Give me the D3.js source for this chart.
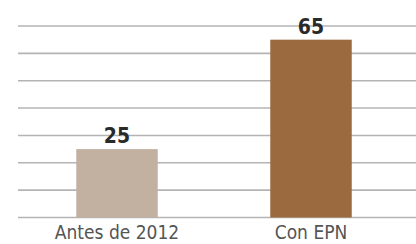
<!DOCTYPE html>
<html>
<head>
<meta charset="utf-8">
<script src="https://cdn.jsdelivr.net/npm/d3@7"></script>
<style>
  body { margin: 0; background: #fff; }
  svg { display: block; }
</style>
</head>
<body>
<svg id="chart" width="416" height="244"></svg>
<script>
const categories = ["Antes de 2012", "Con EPN"];
const values = [25, 65];
const barColors = ["#c2b1a1", "#9c6a3f"];
const gridTicks = [0, 10, 20, 30, 40, 50, 60, 70];

const svg = d3.select("#chart");
const W = 416, H = 244;
const margin = { left: 18, right: 0, top: 26, bottom: 26.5 };

const x = d3.scaleBand()
  .domain(categories)
  .range([20, 408])
  .paddingInner(0.58)
  .paddingOuter(0.29);

const y = d3.scaleLinear()
  .domain([0, 70])
  .range([H - margin.bottom, margin.top]);

const FONT = "'DejaVu Sans Condensed', 'Liberation Sans Narrow', sans-serif";

// gridlines
svg.append("g")
  .selectAll("line")
  .data(gridTicks)
  .join("line")
    .attr("x1", margin.left).attr("x2", W)
    .attr("y1", d => y(d)).attr("y2", d => y(d))
    .attr("stroke", "#b4b4b4")
    .attr("stroke-width", 1.6);

// bars
svg.append("g")
  .selectAll("rect")
  .data(values)
  .join("rect")
    .attr("x", (d, i) => x(categories[i]))
    .attr("width", x.bandwidth())
    .attr("y", d => y(d))
    .attr("height", d => y(0) - y(d))
    .attr("fill", (d, i) => barColors[i]);

// value labels
svg.append("g")
  .selectAll("text")
  .data(values)
  .join("text")
    .attr("x", (d, i) => x(categories[i]) + x.bandwidth() / 2)
    .attr("y", d => y(d) - 6)
    .attr("text-anchor", "middle")
    .attr("font-family", FONT)
    .attr("font-weight", "bold")
    .attr("font-size", 21)
    .attr("fill", "#2a2a2a")
    .text(d => d);

// category labels
svg.append("g")
  .selectAll("text")
  .data(categories)
  .join("text")
    .attr("x", d => x(d) + x.bandwidth() / 2)
    .attr("y", 239)
    .attr("text-anchor", "middle")
    .attr("font-family", FONT)
    .attr("font-size", 19)
    .attr("fill", "#555")
    .text(d => d);
</script>
</body>
</html>
